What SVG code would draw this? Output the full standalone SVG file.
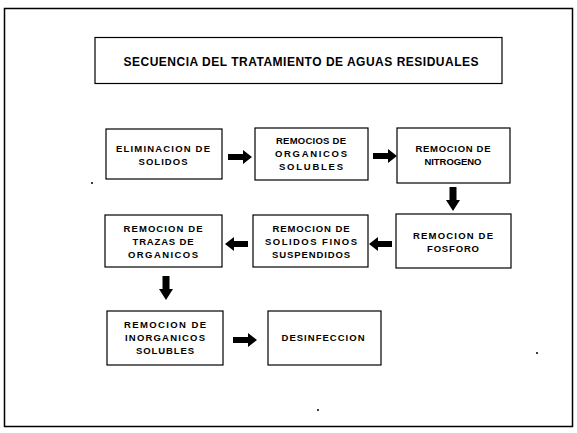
<svg xmlns="http://www.w3.org/2000/svg" width="577" height="433" viewBox="0 0 577 433">
<style>
.frame{fill:none;stroke:#000;stroke-width:1.5}
.box{fill:#fff;stroke:#000;stroke-width:1.2}
.t{font-family:"Liberation Sans",Arial,sans-serif;font-weight:bold;font-size:9.5px;fill:#000;text-anchor:middle}
.title{font-family:"Liberation Sans",Arial,sans-serif;font-weight:bold;font-size:12px;fill:#000;text-anchor:middle}
.arr{fill:#000}
</style>
<rect width="577" height="433" fill="#fff"/>
<rect class="frame" x="4.5" y="8.5" width="568" height="418"/>
<g id="title">
<rect class="box" x="95" y="37.5" width="407" height="46"/>
<text class="title" x="301" y="66" textLength="355" lengthAdjust="spacing">SECUENCIA DEL TRATAMIENTO DE AGUAS RESIDUALES</text>
</g>
<g id="n1">
<rect class="box" x="106" y="129" width="116" height="50"/>
<text class="t" x="163" y="151.5" textLength="94" lengthAdjust="spacing">ELIMINACION DE</text>
<text class="t" x="163" y="164.5" textLength="49" lengthAdjust="spacing">SOLIDOS</text>
</g>
<g id="n2">
<rect class="box" x="255" y="128" width="113" height="52"/>
<text class="t" x="311" y="144" textLength="70" lengthAdjust="spacing">REMOCIOS DE</text>
<text class="t" x="311" y="157" textLength="72" lengthAdjust="spacing">ORGANICOS</text>
<text class="t" x="311" y="170" textLength="64" lengthAdjust="spacing">SOLUBLES</text>
</g>
<g id="n3">
<rect class="box" x="397" y="128" width="113" height="55"/>
<text class="t" x="453" y="152" textLength="75" lengthAdjust="spacing">REMOCION DE</text>
<text class="t" x="453" y="165" textLength="57" lengthAdjust="spacing">NITROGENO</text>
</g>
<g id="n4">
<rect class="box" x="396" y="214" width="115" height="54"/>
<text class="t" x="453" y="238.5" textLength="80" lengthAdjust="spacing">REMOCION DE</text>
<text class="t" x="453" y="251.5" textLength="52" lengthAdjust="spacing">FOSFORO</text>
</g>
<g id="n5">
<rect class="box" x="253" y="215" width="115" height="52"/>
<text class="t" x="311" y="231.5" textLength="77" lengthAdjust="spacing">REMOCION DE</text>
<text class="t" x="311" y="244.5" textLength="92" lengthAdjust="spacing">SOLIDOS FINOS</text>
<text class="t" x="311" y="257.5" textLength="78" lengthAdjust="spacing">SUSPENDIDOS</text>
</g>
<g id="n6">
<rect class="box" x="105" y="215" width="117" height="52"/>
<text class="t" x="163" y="231.5" textLength="79" lengthAdjust="spacing">REMOCION DE</text>
<text class="t" x="163" y="244.5" textLength="61" lengthAdjust="spacing">TRAZAS DE</text>
<text class="t" x="163" y="257.5" textLength="70" lengthAdjust="spacing">ORGANICOS</text>
</g>
<g id="n7">
<rect class="box" x="107" y="311" width="116" height="54"/>
<text class="t" x="165" y="327.5" textLength="82" lengthAdjust="spacing">REMOCION DE</text>
<text class="t" x="165" y="340.5" textLength="80" lengthAdjust="spacing">INORGANICOS</text>
<text class="t" x="165" y="353.5" textLength="58" lengthAdjust="spacing">SOLUBLES</text>
</g>
<g id="n8">
<rect class="box" x="268" y="311" width="113" height="54"/>
<text class="t" x="323" y="340.5" textLength="83" lengthAdjust="spacing">DESINFECCION</text>
</g>
<g id="connectors">
<path class="arr" d="M228,154H243V150L252,157L243,164V160H228Z"/>
<path class="arr" d="M373,153H388V149L397,156L388,163V159H373Z"/>
<path class="arr" d="M449.5,187H456.5V200H460L453,211L446,200H449.5Z"/>
<path class="arr" d="M392,241H378V237L369,244L378,251V247H392Z"/>
<path class="arr" d="M248,241H234V237L225,244L234,251V247H248Z"/>
<path class="arr" d="M162.5,276H169.5V289H173L166,300L159,289H162.5Z"/>
<path class="arr" d="M233,337H248V333L257,340L248,347V343H233Z"/>
</g>
<circle cx="92" cy="183" r="1" fill="#000"/>
<circle cx="537" cy="353" r="1" fill="#000"/>
<circle cx="318" cy="410" r="1" fill="#000"/>
</svg>
